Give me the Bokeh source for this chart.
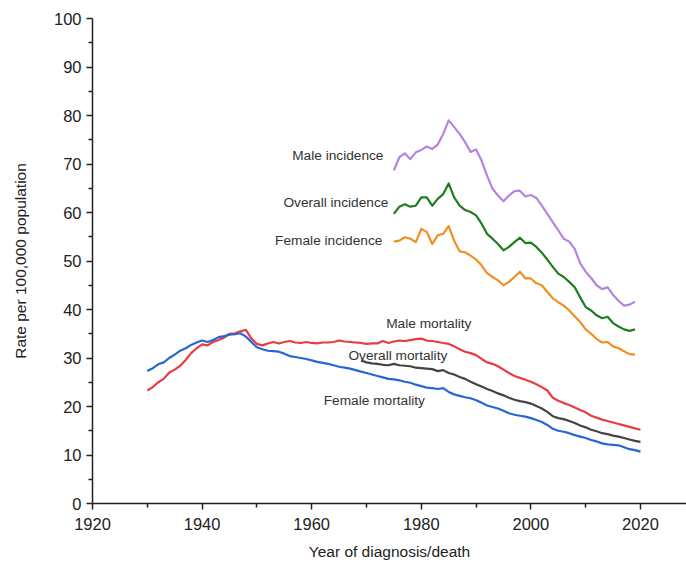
from bokeh.plotting import figure
from bokeh.models import FixedTicker, Range1d, Label
from bokeh.embed import file_html
from bokeh.resources import INLINE

# ---------------- data ----------------
inc_years = list(range(1975, 2020))
male_incidence = [68.7, 71.4, 72.2, 71.0, 72.4, 72.9, 73.6, 73.1, 74.0, 76.2,
                  79.0, 77.6, 76.2, 74.5, 72.5, 73.0, 70.7, 67.6, 64.9, 63.5,
                  62.3, 63.5, 64.4, 64.5, 63.3, 63.6, 63.0, 61.4, 59.7, 58.0,
                  56.3, 54.6, 54.0, 52.5, 49.5, 47.8, 46.5, 45.0, 44.2, 44.6,
                  43.0, 41.8, 40.8, 41.0, 41.6]
overall_incidence = [59.7, 61.2, 61.7, 61.2, 61.4, 63.1, 63.1, 61.4, 62.8, 63.8,
                     66.0, 63.1, 61.4, 60.5, 60.1, 59.4, 57.7, 55.6, 54.6, 53.5,
                     52.2, 52.9, 53.9, 54.8, 53.7, 53.8, 52.9, 51.7, 50.3, 48.8,
                     47.4, 46.7, 45.7, 44.6, 42.5, 40.5, 39.8, 38.8, 38.2, 38.5,
                     37.2, 36.5, 35.9, 35.6, 35.9]
female_incidence = [54.0, 54.2, 54.9, 54.6, 53.9, 56.6, 56.0, 53.5, 55.3, 55.6,
                    57.2, 54.2, 52.0, 51.8, 51.1, 50.3, 49.1, 47.5, 46.7, 46.0,
                    45.0, 45.7, 46.7, 47.8, 46.4, 46.4, 45.4, 45.0, 43.6, 42.3,
                    41.5, 40.8, 39.8, 38.6, 37.4, 35.9, 35.0, 33.9, 33.2, 33.3,
                    32.4, 32.0, 31.4, 30.8, 30.7]

mort_years = list(range(1930, 2021))
male_mortality = [23.3, 24.0, 25.0, 25.7, 27.0, 27.6, 28.4, 29.6, 31.0, 32.0,
                  32.8, 32.6, 33.3, 33.7, 34.2, 35.0, 35.1, 35.5, 35.8, 34.0,
                  32.9, 32.6, 33.0, 33.3, 33.0, 33.3, 33.5, 33.2, 33.1, 33.3,
                  33.1, 33.0, 33.2, 33.2, 33.3, 33.6, 33.4, 33.3, 33.2, 33.1,
                  32.9, 33.0, 33.0, 33.5, 33.1, 33.4, 33.6, 33.5, 33.7, 33.9,
                  34.0, 33.6, 33.5, 33.3, 33.1, 32.9, 32.4, 31.8, 31.3, 31.0,
                  30.6, 29.8, 29.1, 28.8, 28.3, 27.6, 26.9, 26.3, 25.9, 25.5,
                  25.1, 24.6, 24.0, 23.3, 21.8, 21.2, 20.7, 20.3, 19.8, 19.3,
                  18.8, 18.1, 17.7, 17.3, 17.0, 16.7, 16.4, 16.1, 15.8, 15.5,
                  15.2]
female_mortality = [27.3, 27.9, 28.7, 29.1, 30.0, 30.7, 31.5, 32.0, 32.7, 33.2,
                    33.6, 33.3, 33.7, 34.3, 34.5, 34.8, 34.9, 35.1, 34.4, 33.3,
                    32.2, 31.8, 31.5, 31.4, 31.3, 30.9, 30.4, 30.2, 30.0, 29.8,
                    29.5, 29.2, 29.0, 28.8, 28.5, 28.2, 28.0, 27.8, 27.5, 27.2,
                    26.9, 26.6, 26.3, 26.0, 25.7, 25.6, 25.4, 25.1, 24.9, 24.5,
                    24.2, 23.9, 23.8, 23.6, 23.8, 23.0, 22.5, 22.2, 21.9, 21.7,
                    21.3, 20.8, 20.2, 19.9, 19.6, 19.1, 18.6, 18.3, 18.1, 17.9,
                    17.6, 17.2, 16.8, 16.2, 15.4, 15.0, 14.8, 14.5, 14.1, 13.8,
                    13.5, 13.1, 12.8, 12.4, 12.2, 12.1, 12.0, 11.6, 11.2, 11.0,
                    10.7]
overall_years = list(range(1969, 2021))
overall_mortality = [29.5, 29.1, 28.9, 28.8, 28.6, 28.5, 28.8, 28.5, 28.4, 28.3,
                     28.0, 27.9, 27.8, 27.7, 27.3, 27.5, 26.9, 26.6, 26.1, 25.7,
                     25.1, 24.6, 24.1, 23.6, 23.2, 22.7, 22.3, 21.8, 21.4, 21.1,
                     20.9, 20.6, 20.1, 19.6, 18.9, 18.0, 17.6, 17.4, 17.0, 16.6,
                     16.1, 15.7, 15.2, 14.9, 14.5, 14.3, 14.0, 13.8, 13.5, 13.2,
                     12.9, 12.7]

x_ticks = [1920, 1940, 1960, 1980, 2000, 2020]
x_minor = [1930, 1950, 1970, 1990, 2010]
y_ticks = [0, 10, 20, 30, 40, 50, 60, 70, 80, 90, 100]
y_minor = [5, 15, 25, 35, 45, 55, 65, 75, 85, 95]

# ---------------- figure ----------------
FONT = "Liberation Sans"
p = figure(width=686, height=566, output_backend="svg", toolbar_location=None,
           x_range=Range1d(1920, 2028.4), y_range=Range1d(0, 100),
           min_border_left=92, min_border_right=0, min_border_top=18,
           min_border_bottom=63)
p.outline_line_color = None
p.xgrid.visible = False
p.ygrid.visible = False
p.background_fill_color = "white"

series = [
    (inc_years, male_incidence, "#b384e0"),
    (inc_years, overall_incidence, "#1f7d1f"),
    (inc_years, female_incidence, "#f28f22"),
    (mort_years, male_mortality, "#e83c44"),
    (overall_years, overall_mortality, "#444444"),
    (mort_years, female_mortality, "#2766d6"),
]
for xs, ys, col in series:
    p.line(xs, ys, line_color=col, line_width=2.2, line_join="round")

for ax, major, minor in ((p.xaxis[0], x_ticks, x_minor), (p.yaxis[0], y_ticks, y_minor)):
    ax.ticker = FixedTicker(ticks=major, minor_ticks=minor)
    ax.axis_line_color = "#222222"
    ax.axis_line_width = 1.5
    ax.major_tick_line_color = "#222222"
    ax.major_tick_line_width = 1.5
    ax.minor_tick_line_color = "#222222"
    ax.minor_tick_line_width = 1.5
    ax.major_tick_out = 6
    ax.major_tick_in = 0
    ax.minor_tick_out = 4
    ax.minor_tick_in = 0
    ax.major_label_text_font = FONT
    ax.major_label_text_font_size = "16.5px"
    ax.major_label_text_color = "#222222"
    ax.axis_label_text_font = FONT
    ax.axis_label_text_font_size = "15.5px"
    ax.axis_label_text_font_style = "normal"
    ax.axis_label_text_color = "#222222"

p.xaxis.axis_label = "Year of diagnosis/death"
p.yaxis.axis_label = "Rate per 100,000 population"
p.xaxis.major_label_standoff = 8
p.xaxis.axis_label_standoff = 10
p.yaxis.major_label_standoff = 5
p.yaxis.axis_label_standoff = 22

labels = [
    ("Male incidence", 1973.1, 71.8, "right"),
    ("Overall incidence", 1974.0, 62.1, "right"),
    ("Female incidence", 1972.9, 54.2, "right"),
    ("Male mortality", 1973.6, 37.1, "left"),
    ("Overall mortality", 1966.7, 30.5, "left"),
    ("Female mortality", 1962.2, 21.2, "left"),
]
for txt, lx, ly, align in labels:
    p.add_layout(Label(x=lx, y=ly, text=txt, text_align=align,
                       text_baseline="middle", text_font=FONT,
                       text_font_size="13.7px", text_color="#333333"))

open("out.html", "w").write(file_html(p, INLINE))
